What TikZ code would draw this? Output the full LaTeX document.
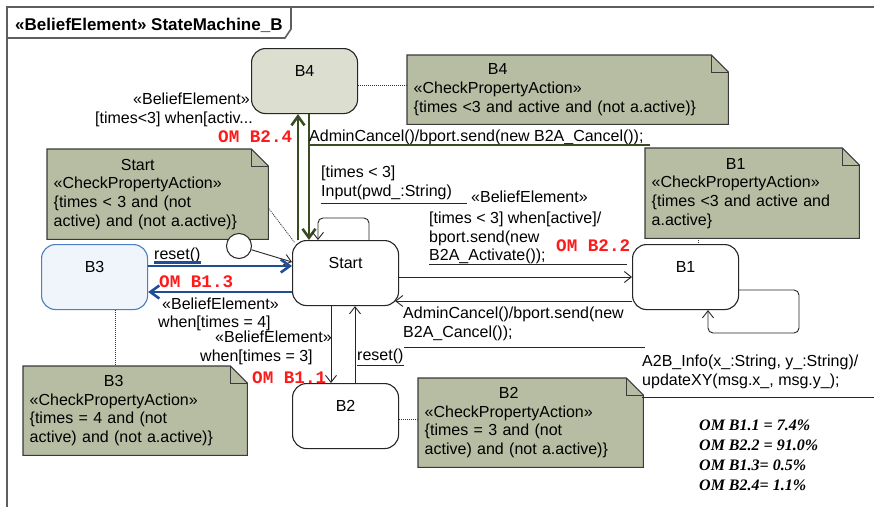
\documentclass[tikz,border=0pt]{standalone}
\usepackage{fontspec}
\usepackage{calc}
\setmainfont{Liberation Sans}
\newfontfamily\omfont{Liberation Mono}
\newfontfamily\statfont{Liberation Serif}
\usetikzlibrary{arrows.meta,backgrounds}

\definecolor{framegray}{HTML}{5E5E5E}
\definecolor{notefill}{HTML}{B7BDA3}
\definecolor{noteline}{HTML}{3A3A3A}
\definecolor{hifill}{HTML}{DCDFD0}
\definecolor{bthreefill}{HTML}{F0F4FB}
\definecolor{bthreeline}{HTML}{4A7FC1}
\definecolor{trgreen}{HTML}{3A4C22}
\definecolor{trblue}{HTML}{1F4E96}
\definecolor{omred}{HTML}{FF1A1A}

\newcommand\dgfont{\fontsize{16}{18.7}\selectfont}
\newcommand\notetitle[1]{\makebox[\widthof{«CheckPropertyAction»}][c]{#1}}

\begin{document}
\begin{tikzpicture}[x=1pt,y=-1pt,
  every node/.style={font=\dgfont},
  umlstate/.style={draw=black!85, line width=1.1pt, rounded corners=14pt,
    fill=white, minimum width=106pt, minimum height=65pt, inner sep=0pt,
    anchor=north west, label={[anchor=base, yshift=-28pt]north:#1}},
  notebox/.style={anchor=north west, inner xsep=6.5pt, inner ysep=0pt, align=left},
  lbl/.style={anchor=base west, inner sep=0pt},
  om/.style={anchor=base west, inner sep=0pt, text=omred,
    font=\omfont\bfseries\fontsize{17.6}{20}\selectfont},
  stat/.style={anchor=base west, inner sep=0pt,
    font=\statfont\bfseries\itshape\fontsize{16}{20}\selectfont},
  arr/.style={draw=black!85, line width=0.9pt, -{Straight Barb[length=7pt,width=11pt]}},
  garr/.style={draw=trgreen, line width=2.6pt, -{Straight Barb[length=9pt,width=13pt]}},
  barr/.style={draw=trblue, line width=2.6pt, -{Straight Barb[length=9pt,width=13pt]}},
  anchorline/.style={draw=black!80, line width=0.8pt, dash pattern=on 1pt off 1pt},
  uline/.style={draw=black!85, line width=0.9pt},
]
\useasboundingbox (0,0) rectangle (874,507);

% diagram frame and its name tab
\draw[framegray, line width=2pt] (7,507) -- (7,7) -- (874,7);
\draw[framegray, line width=1.6pt] (7,38) -- (285,38) -- (291,29) -- (291,7);
\node[lbl, font=\bfseries\fontsize{17}{20}\selectfont] (title) at (15,30)
  {«BeliefElement» StateMachine\_B};

% states
\node[umlstate=B4, fill=hifill] (B4) at (251,48) {};
\node[umlstate=Start] (Start) at (292,240) {};
\node[umlstate=B3, fill=bthreefill, draw=bthreeline] (B3) at (41,244) {};
\node[umlstate=B2] (B2) at (292,383) {};
\node[umlstate=B1] (B1) at (632,244) {};
\node[circle, draw=black!85, fill=white, line width=1pt, minimum size=25pt,
  inner sep=0pt] (init) at (239,246) {};

% constraint notes
\node[notebox, text width=308pt, minimum height=69pt] (nB4) at (407,55)
  {\notetitle{B4}\\«CheckPropertyAction»\\\{times <3 and active and (not a.active)\}};
\node[notebox, text width=208pt, minimum height=90pt] (nStart) at (47,149)
  {\notetitle{Start}\\«CheckPropertyAction»\\\{times < 3 and (not\\active) and (not a.active)\}};
\node[notebox, text width=201pt, minimum height=90pt] (nB1) at (645,148)
  {\notetitle{B1}\\«CheckPropertyAction»\\\{times <3 and active and\\a.active\}};
\node[notebox, text width=211pt, minimum height=89pt] (nB3) at (23,366)
  {\notetitle{B3}\\«CheckPropertyAction»\\\{times = 4 and (not\\active) and (not a.active)\}};
\node[notebox, text width=212pt, minimum height=89pt] (nB2) at (418,378)
  {\notetitle{B2}\\«CheckPropertyAction»\\\{times = 3 and (not\\active) and (not a.active)\}};

\begin{scope}[on background layer]
  \fill[white] (0,0) rectangle (874,507);
  \foreach \n in {nB4,nStart,nB1,nB3,nB2}{
    \draw[line width=1.1pt, draw=noteline, fill=notefill, line join=miter]
      (\n.south west) -- (\n.north west) -- ([xshift=-17pt]\n.north east)
      -- ([yshift=-17pt]\n.north east) -- (\n.south east) -- cycle;
    \draw[line width=1pt, draw=noteline]
      ([xshift=-17pt]\n.north east) |- ([yshift=-17pt]\n.north east);
  }
\end{scope}

% note anchors
\draw[anchorline] (B4.east |- 0,85) -- (nB4.west |- 0,85);
\draw[anchorline] (nStart.east |- 0,208) -- ([shift={(3pt,-3pt)}]Start.north west);
\draw[anchorline] (nB1.south -| 698,0) -- (B1.north -| 698,0);
\draw[anchorline] (B3.south -| 115,0) -- (nB3.north -| 115,0);
\draw[anchorline] (B2.east |- 0,419) -- (nB2.west |- 0,419);

% transitions
\draw[arr] (init) -- (Start.west |- 0,262);
\draw[garr] (Start.north -| 298,0) -- (B4.south -| 298,0);
\draw[garr] (B4.south -| 309,0) -- (Start.north -| 309,0);
\draw[arr, rounded corners=5pt] (Start.north -| 369,0) |- (318,218) -- (Start.north -| 318,0);
\draw[arr] (Start.east |- 0,277) -- (B1.west |- 0,277);
\draw[arr] (B1.west |- 0,301) -- ([xshift=-4pt]Start.east |- 0,301);
\draw[arr, rounded corners=5pt] (B1.east |- 0,290) -| (799,333) -| (B1.south -| 708,0);
\draw[arr] (Start.south -| 331,0) -- (B2.north -| 331,0);
\draw[arr] (B2.north -| 355,0) -- (Start.south -| 355,0);
\draw[barr] (B3.east |- 0,266) -- (Start.west |- 0,266);
\draw[barr] (Start.west |- 0,292) -- (B3.east |- 0,292);

% transition labels
\node[lbl] (l1) at (133,104) {«BeliefElement»};
\node[lbl] (l2) at (95,123) {[times<3] when[activ...};
\node[om] (om24) at (218,142) {OM B2.4};
\node[lbl] (l4) at (309,141) {AdminCancel()/bport.send(new B2A\_Cancel());};
\draw[trgreen, line width=2pt] (309,144.5) -- (650,144.5);
\node[lbl] (l5) at (321,177) {[times < 3]};
\node[lbl] (l6) at (321,196) {Input(pwd\_:String)};
\draw[uline] (321,203) -- (467,203);
\node[lbl] (l7) at (471,202) {«BeliefElement»};
\node[lbl] (l8) at (429,223) {[times < 3] when[active]/};
\node[lbl] (l9) at (429,242) {bport.send(new};
\node[lbl] (l10) at (429,260) {B2A\_Activate());};
\draw[uline] (429,264) -- (627,264);
\node[om] (om22) at (556,251) {OM B2.2};
\node[lbl] (l12) at (154,259) {reset()};
\draw[trblue, line width=2.4pt] (154,262.5) -- (201,262.5);
\node[om] (om13) at (159,287) {OM B1.3};
\node[lbl] (l14) at (162,309) {«BeliefElement»};
\node[lbl] (l15) at (158,327) {when[times = 4]};
\node[lbl] (l16) at (215,342) {«BeliefElement»};
\node[lbl] (l17) at (200,361) {when[times = 3]};
\node[om] (om11) at (252,383) {OM B1.1};
\node[lbl] (l19) at (357,360) {reset()};
\draw[uline] (357,365) -- (404,365);
\node[lbl] (l20) at (403,318) {AdminCancel()/bport.send(new};
\node[lbl] (l21) at (403,337) {B2A\_Cancel());};
\draw[uline] (404,347) -- (645,347);
\node[lbl] (l22) at (642,366) {A2B\_Info(x\_:String, y\_:String)/};
\node[lbl] (l23) at (642,385) {updateXY(msg.x\_, msg.y\_);};
\draw[uline] (642,397) -- (874,397);

% occurrence summary
\node[stat] (s1) at (699,430) {OM B1.1 = 7.4\%};
\node[stat] (s2) at (699,450) {OM B2.2 = 91.0\%};
\node[stat] (s3) at (699,470) {OM B1.3= 0.5\%};
\node[stat] (s4) at (699,490) {OM B2.4= 1.1\%};
\end{tikzpicture}
\end{document}
